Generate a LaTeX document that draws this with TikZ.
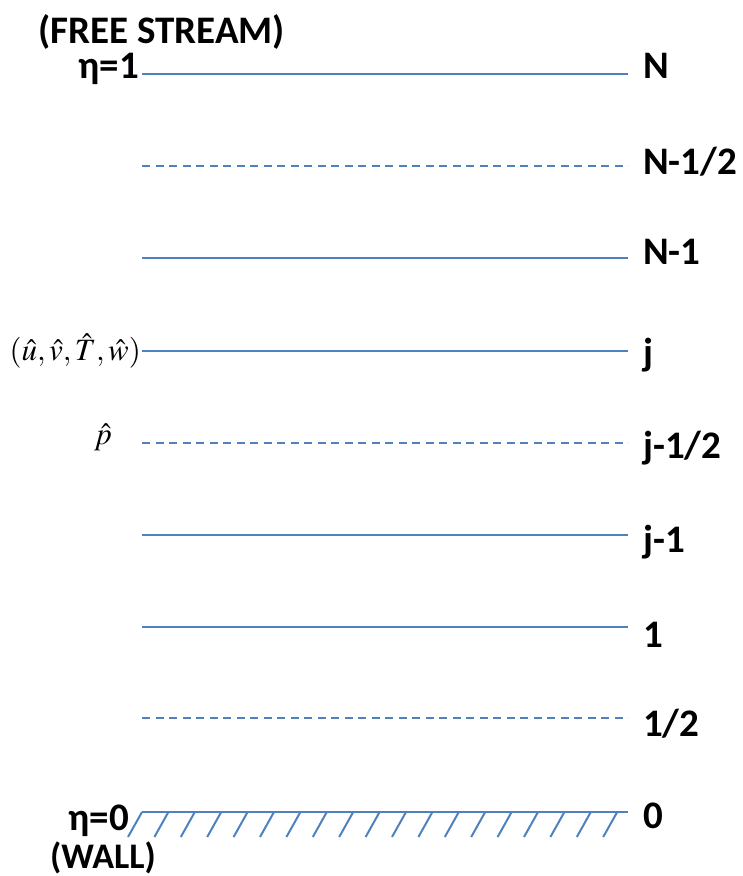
\documentclass[tikz,border=0pt]{standalone}
\usepackage{mathptmx}
\usepackage{fontspec}
\setmainfont{Carlito}
\definecolor{gridblue}{HTML}{4F81BD}
\begin{document}
\begin{tikzpicture}[x=1pt,y=-1pt,
  lbl/.style={font=\fontsize{39}{44}\selectfont\bfseries, inner sep=0pt},
  wlbl/.style={font=\fontsize{36}{40}\selectfont\bfseries, inner sep=0pt},
  mlbl/.style={font=\fontsize{31}{36}\selectfont, inner sep=0pt},
  gridline/.style={draw=gridblue, line width=2pt},
  halfline/.style={draw=gridblue, line width=2pt, dash pattern=on 8pt off 5.5pt},
  hatchline/.style={draw=gridblue, line width=2pt}]
\useasboundingbox (0,0) rectangle (743,876);
% grid line end points
\foreach \n/\y in {N/74, Nh/166, Nm/258, j/351, jh/443, jm/535, one/627, half/718, zero/812}{
  \coordinate (\n-l) at (142,\y);
  \coordinate (\n-r) at (628,\y);
}
% full lines
\foreach \n in {N, Nm, j, jm, one, zero}{
  \draw[gridline] (\n-l) -- (\n-r);
}
% half-step lines
\foreach \n in {Nh, jh, half}{
  \draw[halfline] (\n-l) -- (\n-r);
}
% wall hatching
\foreach \k in {0,...,18}{
  \coordinate (ht\k) at (142+\k*26.4,812);
  \coordinate (hb\k) at (128+\k*26.4,837);
  \draw[hatchline] (ht\k) -- (hb\k);
}
% right labels
\node[lbl, anchor=base west] (lN) at (643,78) {N};
\node[lbl, anchor=base west] (lNh) at (643,174) {N-1/2};
\node[lbl, anchor=base west] (lNm) at (643,264) {N-1};
\node[lbl, anchor=base west] (lj) at (643,365) {j};
\node[lbl, anchor=base west] (ljh) at (643,458) {j-1/2};
\node[lbl, anchor=base west] (ljm) at (643,552) {j-1};
\node[lbl, anchor=base west] (lone) at (643,647) {1};
\node[lbl, anchor=base west] (lhalf) at (643,736) {1/2};
\node[lbl, anchor=base west] (lzero) at (643,828) {0};
% left labels
\node[lbl, anchor=base west] (fs) at (38,43) {(FREE STREAM)};
\node[lbl, anchor=base east] (e1) at (139,78) {η=1};
\node[lbl, anchor=base east] (e0) at (129,830) {η=0};
\node[wlbl, anchor=base west] (wall) at (50,868) {(WALL)};
\node[mlbl, anchor=east] (vars) at (141,351) {$(\hat{u},\hat{v},\hat{T},\hat{w})$};
\node[mlbl] (ph) at (103,437) {$\hat{p}$};
\end{tikzpicture}
\end{document}
